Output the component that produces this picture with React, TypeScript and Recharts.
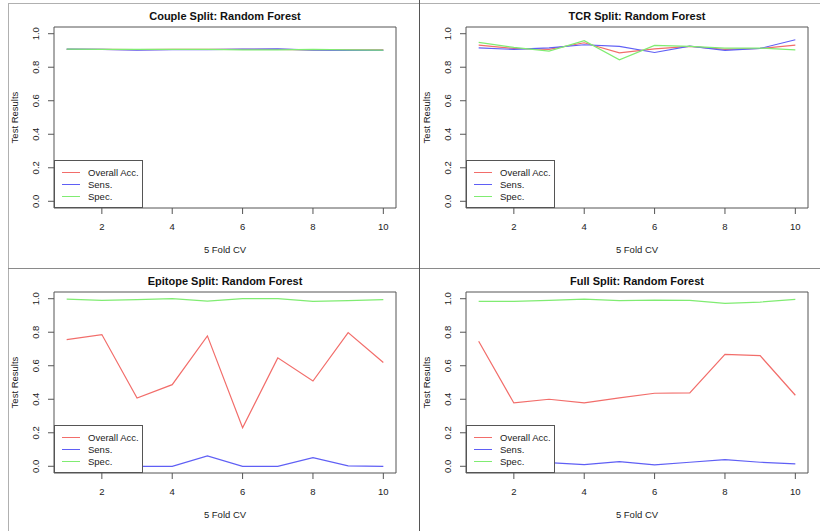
import React from "react";
import { LineChart, Line, XAxis, YAxis, ReferenceArea } from "recharts";

/* ── data ── */
const folds = [1, 2, 3, 4, 5, 6, 7, 8, 9, 10];
const xTicks = [2, 4, 6, 8, 10];
const yTicks = [0, 0.2, 0.4, 0.6, 0.8, 1.0];

const coupleOverall = [0.907, 0.906, 0.905, 0.906, 0.906, 0.906, 0.906, 0.904, 0.903, 0.903];
const coupleSens = [0.908, 0.907, 0.902, 0.905, 0.905, 0.908, 0.909, 0.902, 0.901, 0.901];
const coupleSpec = [0.908, 0.906, 0.906, 0.906, 0.906, 0.904, 0.904, 0.906, 0.903, 0.902];

const tcrOverall = [0.932, 0.912, 0.906, 0.946, 0.886, 0.91, 0.924, 0.906, 0.912, 0.932];
const tcrSens = [0.916, 0.906, 0.916, 0.934, 0.924, 0.888, 0.926, 0.9, 0.912, 0.964];
const tcrSpec = [0.948, 0.918, 0.896, 0.958, 0.844, 0.93, 0.924, 0.914, 0.914, 0.904];

const epiOverall = [0.756, 0.786, 0.407, 0.487, 0.778, 0.23, 0.647, 0.509, 0.798, 0.619];
const epiSens = [0, 0, 0, 0, 0.062, 0, 0, 0.052, 0.003, 0];
const epiSpec = [0.998, 0.99, 0.994, 1.0, 0.986, 1.0, 1.0, 0.984, 0.988, 0.994];

const fullOverall = [0.746, 0.378, 0.4, 0.378, 0.408, 0.436, 0.438, 0.668, 0.66, 0.424];
const fullSens = [0.03, 0.02, 0.022, 0.01, 0.028, 0.008, 0.024, 0.04, 0.024, 0.014];
const fullSpec = [0.984, 0.984, 0.99, 0.998, 0.988, 0.992, 0.99, 0.972, 0.98, 0.996];

const seriesNames = ["Overall Acc.", "Sens.", "Spec."];
const colors = ["#f26d6a", "#5f5ff5", "#80ec72"];

const FONT = "'Liberation Sans', Arial, Helvetica, sans-serif";
const INK = "#222";
const FRAME = "#555";

/* ── rotated R-style y tick ── */
function YTick({ x, y, payload }: any) {
  return (
    <text
      x={x - 12}
      y={y}
      transform={`rotate(-90, ${x - 12}, ${y})`}
      textAnchor="middle"
      dy="0.35em"
      fontSize={9.5}
      fill={INK}
      fontFamily={FONT}
    >
      {Number(payload.value).toFixed(1)}
    </text>
  );
}

function Panel({ title, overall, sens, spec, left, top }: any) {
  const data = folds.map((f, i) => ({ fold: f, overall: overall[i], sens: sens[i], spec: spec[i] }));
  return (
    <div style={{ position: "absolute", left, top, width: 408, height: 265 }}>
      <LineChart width={408} height={265} data={data} margin={{ top: 27, right: 12, bottom: 27, left: 24 }}>
        <XAxis
          dataKey="fold" type="number" domain={[0.64, 10.36]} ticks={xTicks} allowDataOverflow
          axisLine={false} tickLine={{ stroke: FRAME }} tickSize={6} tickMargin={9} height={30}
          tick={{ fill: INK, fontSize: 9.5, fontFamily: FONT }}
          label={{
            content: ({ viewBox }: any) => (
              <text x={viewBox.x + viewBox.width / 2} y={viewBox.y + 44.5} textAnchor="middle"
                fontSize={9.5} fill={INK} fontFamily={FONT}>5 Fold CV</text>
            ),
          }}
        />
        <YAxis
          type="number" domain={[-0.04, 1.04]} ticks={yTicks} allowDataOverflow
          axisLine={false} tickLine={{ stroke: FRAME }} tickSize={6} tickMargin={0} width={30}
          tick={<YTick />}
          label={{
            content: ({ viewBox }: any) => {
              const cx = viewBox.x + viewBox.width - 39;
              const cy = viewBox.y + viewBox.height / 2;
              return (
                <text x={cx} y={cy} transform={`rotate(-90, ${cx}, ${cy})`} textAnchor="middle" dy="0.35em"
                  fontSize={9.5} fill={INK} fontFamily={FONT}>Test Results</text>
              );
            },
          }}
        />
        <Line dataKey="overall" type="linear" stroke={colors[0]} strokeWidth={1.2} dot={false} isAnimationActive={false} />
        <Line dataKey="sens" type="linear" stroke={colors[1]} strokeWidth={1.2} dot={false} isAnimationActive={false} />
        <Line dataKey="spec" type="linear" stroke={colors[2]} strokeWidth={1.2} dot={false} isAnimationActive={false} />
        <ReferenceArea x1={0.64} x2={10.36} y1={-0.04} y2={1.04} fill="none" stroke={FRAME} strokeWidth={1} ifOverflow="visible" />
      </LineChart>

      {/* title */}
      <div style={{
        position: "absolute", left: 54, width: 342, top: 9, textAlign: "center",
        fontFamily: FONT, fontWeight: "bold", fontSize: 11, color: "#111", lineHeight: "14px",
      }}>{title}</div>

      {/* R-style legend, white box over the lines */}
      <div style={{
        position: "absolute", left: 54, top: 160, width: 89, height: 48, boxSizing: "border-box",
        background: "#fff", border: `1px solid ${FRAME}`, fontFamily: FONT, fontSize: 9.5, color: INK,
        paddingTop: 6,
      }}>
        {seriesNames.map((n, i) => (
          <div key={n} style={{ display: "flex", alignItems: "center", height: 11.7 }}>
            <span style={{ display: "inline-block", marginLeft: 7, width: 18, height: 0, borderTop: `1.2px solid ${colors[i]}` }} />
            <span style={{ marginLeft: 8, whiteSpace: "nowrap" }}>{n}</span>
          </div>
        ))}
      </div>
    </div>
  );
}

export default function App() {
  return (
    <div style={{ position: "absolute", left: 0, top: 0, width: 820, height: 531, background: "#fff", overflow: "hidden" }}>
      <Panel title="Couple Split: Random Forest" overall={coupleOverall} sens={coupleSens} spec={coupleSpec} left={0} top={0} />
      <Panel title="TCR Split: Random Forest" overall={tcrOverall} sens={tcrSens} spec={tcrSpec} left={412} top={0} />
      <Panel title="Epitope Split: Random Forest" overall={epiOverall} sens={epiSens} spec={epiSpec} left={0} top={265} />
      <Panel title="Full Split: Random Forest" overall={fullOverall} sens={fullSens} spec={fullSpec} left={412} top={265} />

      {/* screenshot frame and dividers */}
      <div style={{ position: "absolute", left: 8, top: 3, width: 812, height: 1, background: "#b0b0b0" }} />
      <div style={{ position: "absolute", left: 8, top: 3, width: 1, height: 528, background: "#b0b0b0" }} />
      <div style={{ position: "absolute", left: 8, top: 268, width: 812, height: 1, background: "#8a8a8a" }} />
      <div style={{ position: "absolute", left: 419, top: 0, width: 1, height: 531, background: "#555" }} />
    </div>
  );
}
